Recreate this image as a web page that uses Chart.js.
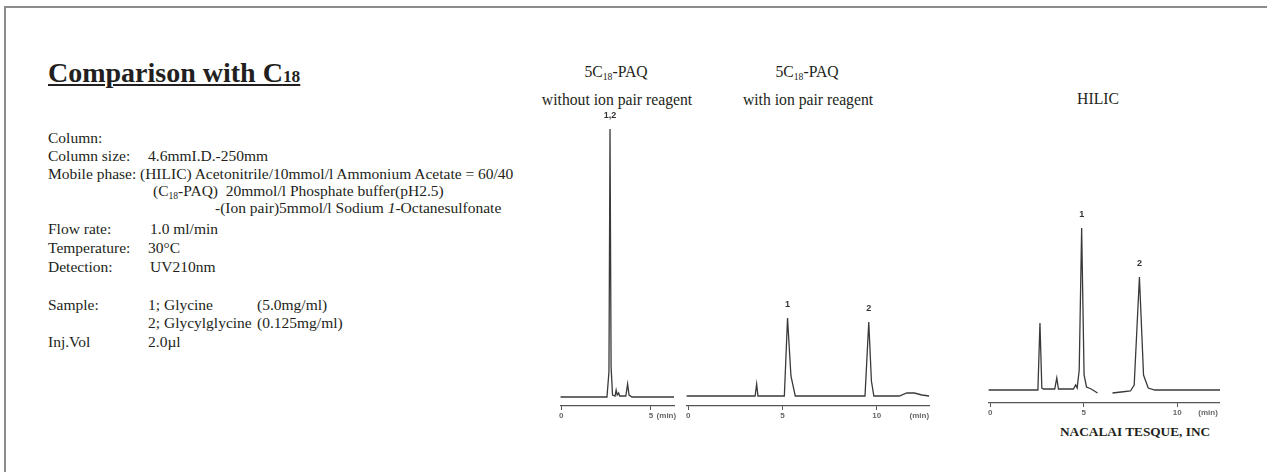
<!DOCTYPE html>
<html>
<head>
<meta charset="utf-8">
<script src="https://cdn.jsdelivr.net/npm/chart.js@4"></script>
<style>
  body { margin: 0; background: #fff; font-family: "Liberation Serif", "Times New Roman", serif; color: #231f20; }
  #page { position: relative; width: 1267px; height: 472px; overflow: hidden; }
  #frame { position: absolute; left: 4px; top: 6px; width: 1300px; height: 500px; border: 2px solid #8c8c8c; }
  .t { position: absolute; font-size: 15.5px; line-height: 1; white-space: nowrap; }
  .h { font-size: 15.7px; }
  .c { text-align: center; width: 240px; }
  sub { font-size: 0.62em; vertical-align: -0.28em; line-height: 0; }
  #title { position: absolute; left: 48px; top: 59px; font-size: 28px; font-weight: bold; line-height: 1;
           text-decoration: underline; text-decoration-thickness: 2px; text-underline-offset: 2px; white-space: nowrap; }
  #title small { font-size: 0.62em; }
  canvas { position: absolute; }
  #maker { position: absolute; left: 1060px; top: 425px; font-size: 13.3px; font-weight: bold; line-height: 1; white-space: nowrap; }
</style>
</head>
<body>
<div id="page">
  <div id="frame"></div>
  <div id="title">Comparison with C<small>18</small></div>

  <div class="t" style="left:48px;top:130px">Column:</div>
  <div class="t" style="left:48px;top:148px">Column size:</div>
  <div class="t" style="left:148px;top:148px">4.6mmI.D.-250mm</div>
  <div class="t" style="left:48px;top:166px">Mobile phase:</div>
  <div class="t" style="left:140px;top:166px">(HILIC) Acetonitrile/10mmol/l Ammonium Acetate = 60/40</div>
  <div class="t" style="left:153px;top:183px">(C<sub>18</sub>-PAQ)&nbsp; 20mmol/l Phosphate buffer(pH2.5)</div>
  <div class="t" style="left:215px;top:200px">-(Ion pair)5mmol/l Sodium <i>1</i>-Octanesulfonate</div>
  <div class="t" style="left:48px;top:221px">Flow rate:</div>
  <div class="t" style="left:150px;top:221px">1.0 ml/min</div>
  <div class="t" style="left:48px;top:240px">Temperature:</div>
  <div class="t" style="left:148px;top:240px">30°C</div>
  <div class="t" style="left:48px;top:259px">Detection:</div>
  <div class="t" style="left:150px;top:259px">UV210nm</div>
  <div class="t" style="left:48px;top:297px">Sample:</div>
  <div class="t" style="left:148px;top:297px">1; Glycine</div>
  <div class="t" style="left:257px;top:297px">(5.0mg/ml)</div>
  <div class="t" style="left:148px;top:315px">2; Glycylglycine</div>
  <div class="t" style="left:257px;top:315px">(0.125mg/ml)</div>
  <div class="t" style="left:48px;top:334px">Inj.Vol</div>
  <div class="t" style="left:148px;top:334px">2.0µl</div>

  <div class="t h c" style="left:496px;top:64px">5C<sub>18</sub>-PAQ</div>
  <div class="t h c" style="left:497px;top:92px">without ion pair reagent</div>
  <div class="t h c" style="left:687px;top:64px">5C<sub>18</sub>-PAQ</div>
  <div class="t h c" style="left:688px;top:92px">with ion pair reagent</div>
  <div class="t h c" style="left:978px;top:91px">HILIC</div>

  <canvas id="p1" width="119" height="312" style="left:558px;top:110px"></canvas>
  <canvas id="p2" width="245" height="312" style="left:685px;top:110px"></canvas>
  <canvas id="p3" width="233" height="309" style="left:987px;top:110px"></canvas>

  <div id="maker">NACALAI TESQUE, INC</div>
</div>

<script>
// retention time (min) and detector signal
const time1 = [-0.05, 2.55, 2.66, 2.72, 2.78, 2.86, 3.0, 3.06, 3.12, 3.2, 3.26, 3.34, 3.6, 3.7, 3.78, 3.95, 6.29];
const signal1 = [0, 0, 25, 268, 30, 2, 1, 7, 2, 4, 1, 1, 1, 13, 2, 0, 0];

const time2 = [-0.1, 3.55, 3.63, 3.7, 5.1, 5.27, 5.45, 5.68, 9.38, 9.58, 9.72, 9.85, 11.2, 11.6, 12.0, 12.4, 12.79];
const signal2 = [0, 0, 12, 0, 0, 78, 20, 0, 0, 74, 15, 0, 0, 3, 3, 1, 0];

const time3 = [-0.1, 2.55, 2.66, 2.76, 2.85, 3.45, 3.56, 3.65, 4.45, 4.57, 4.65, 4.76, 4.89, 5.02, 5.15, 5.4, 5.74, 5.75, 6.54, 7.0, 7.5, 7.7, 7.98, 8.2, 8.45, 8.8, 12.29];
const signal3 = [0, 0, 67, 2, 1, 1, 12, 1, 1, 5, 2, 20, 162, 15, 3, 1, -3, null, -3, -2, -1, 5, 113, 15, 2, 0, 0];

// peak numbers: [time, signal, text]
const peaks1 = [[2.72, 268, '1,2']];
const peaks2 = [[5.27, 78, '1'], [9.58, 74, '2']];
const peaks3 = [[4.89, 162, '1'], [7.98, 113, '2']];

const tickValues = [0, 5, 10];
const unitLabel = '(min)';

function makePanel(id, time, signal, peaks, xMin, xMax, yMin, yMax, unitAt) {
  const peakText = {
    id: 'peakText',
    afterDatasetsDraw(chart) {
      const ctx = chart.ctx, xs = chart.scales.x, ys = chart.scales.y;
      ctx.save();
      ctx.font = 'bold 9px "Liberation Sans", Arial, sans-serif';
      ctx.fillStyle = '#333';
      ctx.textAlign = 'center';
      ctx.textBaseline = 'middle';
      peaks.forEach(p => {
        ctx.fillText(p[2], xs.getPixelForValue(p[0]), ys.getPixelForValue(p[1]) - 13);
      });
      ctx.restore();
    }
  };

  return new Chart(document.getElementById(id), {
    type: 'line',
    data: {
      datasets: [{
        data: time.map((t, i) => ({ x: t, y: signal[i] })),
        borderColor: '#3a3a3a',
        borderWidth: 1.3,
        pointRadius: 0,
        tension: 0,
        spanGaps: false
      }]
    },
    options: {
      responsive: false,
      animation: false,
      events: [],
      layout: { padding: 0, autoPadding: false },
      plugins: { legend: { display: false }, tooltip: { enabled: false } },
      scales: {
        x: {
          type: 'linear',
          min: xMin,
          max: xMax,
          afterBuildTicks: s => {
            s.ticks = tickValues.filter(v => v <= xMax).concat([unitAt]).map(v => ({ value: v }));
          },
          afterFit: s => { s.height = 16; },
          border: { display: true, color: '#555', width: 1.2 },
          grid: {
            display: true,
            drawOnChartArea: false,
            drawTicks: true,
            tickLength: 4,
            tickColor: c => (c.tick && c.tick.value === unitAt) ? 'rgba(0,0,0,0)' : '#555'
          },
          ticks: {
            autoSkip: false,
            maxRotation: 0,
            padding: 1,
            color: '#666',
            font: { family: '"Liberation Sans", Arial, sans-serif', size: 8, weight: 'bold' },
            callback: v => v === unitAt ? unitLabel : String(v)
          }
        },
        y: { display: false, min: yMin, max: yMax }
      }
    },
    plugins: [peakText]
  });
}

makePanel('p1', time1, signal1, peaks1, -0.05, 6.29, -9, 287, 5.86);
makePanel('p2', time2, signal2, peaks2, -0.1, 12.79, -10, 286, 12.26);
makePanel('p3', time3, signal3, peaks3, -0.1, 12.29, -13, 280, 11.65);
</script>
</body>
</html>
